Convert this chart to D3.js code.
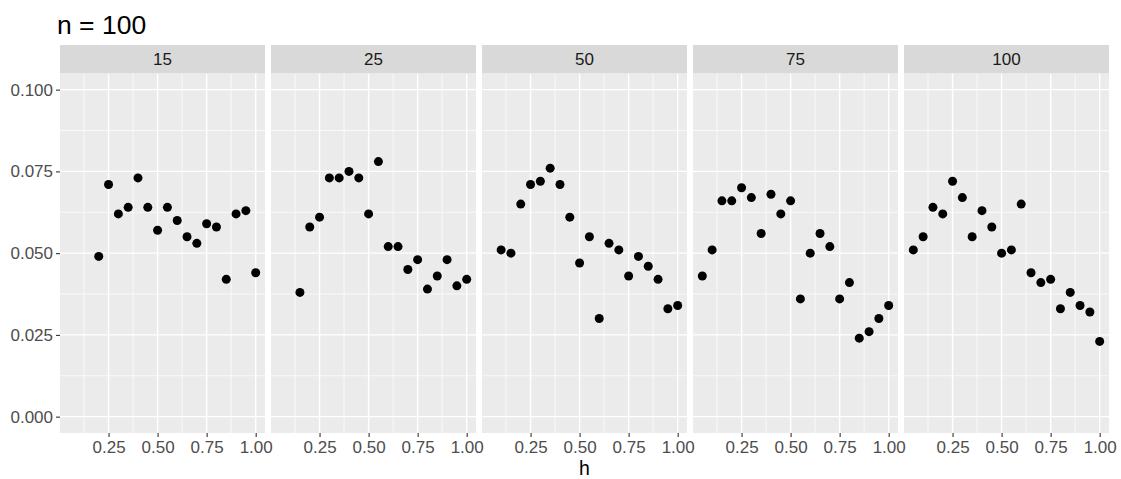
<!DOCTYPE html>
<html><head><meta charset="utf-8">
<script src="https://cdn.jsdelivr.net/npm/d3@7"></script>
<style>body{margin:0;background:#fff}</style>
</head><body><div id="chart"></div>
<script>
const title = "n = 100";
const xLabel = "h";
const panels = ["15", "25", "50", "75", "100"];
const xTicks = [0.25, 0.5, 0.75, 1.0];
const yTicks = [0, 0.025, 0.05, 0.075, 0.1];
const h15 = [0.20,0.25,0.30,0.35,0.40,0.45,0.50,0.55,0.60,0.65,0.70,0.75,0.80,0.85,0.90,0.95,1.00];
const v15 = [0.049,0.071,0.062,0.064,0.073,0.064,0.057,0.064,0.060,0.055,0.053,0.059,0.058,0.042,0.062,0.063,0.044];
const h25 = [0.15,0.20,0.25,0.30,0.35,0.40,0.45,0.50,0.55,0.60,0.65,0.70,0.75,0.80,0.85,0.90,0.95,1.00];
const v25 = [0.038,0.058,0.061,0.073,0.073,0.075,0.073,0.062,0.078,0.052,0.052,0.045,0.048,0.039,0.043,0.048,0.040,0.042];
const h50 = [0.10,0.15,0.20,0.25,0.30,0.35,0.40,0.45,0.50,0.55,0.60,0.65,0.70,0.75,0.80,0.85,0.90,0.95,1.00];
const v50 = [0.051,0.050,0.065,0.071,0.072,0.076,0.071,0.061,0.047,0.055,0.030,0.053,0.051,0.043,0.049,0.046,0.042,0.033,0.034];
const h75 = [0.05,0.10,0.15,0.20,0.25,0.30,0.35,0.40,0.45,0.50,0.55,0.60,0.65,0.70,0.75,0.80,0.85,0.90,0.95,1.00];
const v75 = [0.043,0.051,0.066,0.066,0.070,0.067,0.056,0.068,0.062,0.066,0.036,0.050,0.056,0.052,0.036,0.041,0.024,0.026,0.030,0.034];
const h100 = [0.05,0.10,0.15,0.20,0.25,0.30,0.35,0.40,0.45,0.50,0.55,0.60,0.65,0.70,0.75,0.80,0.85,0.90,0.95,1.00];
const v100 = [0.051,0.055,0.064,0.062,0.072,0.067,0.055,0.063,0.058,0.050,0.051,0.065,0.044,0.041,0.042,0.033,0.038,0.034,0.032,0.023];

const series = [[h15,v15],[h25,v25],[h50,v50],[h75,v75],[h100,v100]];

const W = 1121, H = 479;
const FONT = "'Liberation Sans', Arial, sans-serif";
const svg = d3.select("#chart").append("svg").attr("width", W).attr("height", H)
  .style("font-family", FONT);

const left0 = 60, pw = 205, gap = 6;
const stripTop = 45, stripH = 28.3, pTop = 73.3, pBot = 433;

const allH = [].concat(...series.map(s => s[0]));
const hMin = d3.min(allH), hMax = d3.max(allH);
const xr = hMax - hMin;
const x = d3.scaleLinear().domain([hMin - 0.05*xr, hMax + 0.05*xr]).range([0, pw]);
const y = d3.scaleLinear().domain([-0.005, 0.105]).range([pBot, pTop]);

const xMinor = [0.125, 0.375, 0.625, 0.875];
const yMinor = [0.0125, 0.0375, 0.0625, 0.0875];

svg.append("text").attr("x", 57).attr("y", 34).attr("font-size", 26.5).attr("fill", "#000").text(title);

panels.forEach((p, i) => {
  const g = svg.append("g").attr("transform", `translate(${left0 + i*(pw+gap)},0)`);
  g.append("rect").attr("x", 0).attr("y", pTop).attr("width", pw).attr("height", pBot - pTop).attr("fill", "#EBEBEB");
  yMinor.forEach(v => g.append("line").attr("x1", 0).attr("x2", pw).attr("y1", y(v)).attr("y2", y(v)).attr("stroke", "#fff").attr("stroke-width", 0.7));
  xMinor.forEach(v => g.append("line").attr("y1", pTop).attr("y2", pBot).attr("x1", x(v)).attr("x2", x(v)).attr("stroke", "#fff").attr("stroke-width", 0.7));
  yTicks.forEach(v => g.append("line").attr("x1", 0).attr("x2", pw).attr("y1", y(v)).attr("y2", y(v)).attr("stroke", "#fff").attr("stroke-width", 1.4));
  xTicks.forEach(v => g.append("line").attr("y1", pTop).attr("y2", pBot).attr("x1", x(v)).attr("x2", x(v)).attr("stroke", "#fff").attr("stroke-width", 1.4));
  g.append("rect").attr("x", 0).attr("y", stripTop).attr("width", pw).attr("height", stripH).attr("fill", "#D9D9D9");
  g.append("text").attr("x", pw/2).attr("y", stripTop + stripH/2 + 6).attr("text-anchor", "middle")
    .attr("font-size", 17).attr("fill", "#1A1A1A").text(p);
  const [hs, vs] = series[i];
  g.selectAll("circle.pt").data(hs.map((h, k) => [h, vs[k]])).enter().append("circle")
    .attr("cx", d => x(d[0])).attr("cy", d => y(d[1])).attr("r", 4.5).attr("fill", "#000");
  const xa = g.append("g").attr("transform", `translate(0,${pBot})`)
    .call(d3.axisBottom(x).tickValues(xTicks).tickFormat(d3.format(".2f")).tickSize(4).tickPadding(4));
  xa.select(".domain").remove();
  xa.selectAll("line").attr("stroke", "#333").attr("stroke-width", 1.1);
  xa.selectAll("text").attr("font-size", 17).attr("fill", "#4D4D4D").attr("font-family", FONT);
  if (i === 0) {
    const ya = g.append("g").call(d3.axisLeft(y).tickValues(yTicks).tickFormat(d3.format(".3f")).tickSize(4).tickPadding(3));
    ya.select(".domain").remove();
    ya.selectAll("line").attr("stroke", "#333").attr("stroke-width", 1.1);
    ya.selectAll("text").attr("font-size", 17).attr("fill", "#4D4D4D").attr("font-family", FONT);
  }
});

svg.append("text").attr("x", left0 + (5*pw + 4*gap)/2).attr("y", 475).attr("text-anchor", "middle")
  .attr("font-size", 19.5).attr("fill", "#000").text(xLabel);
</script>
</body></html>
